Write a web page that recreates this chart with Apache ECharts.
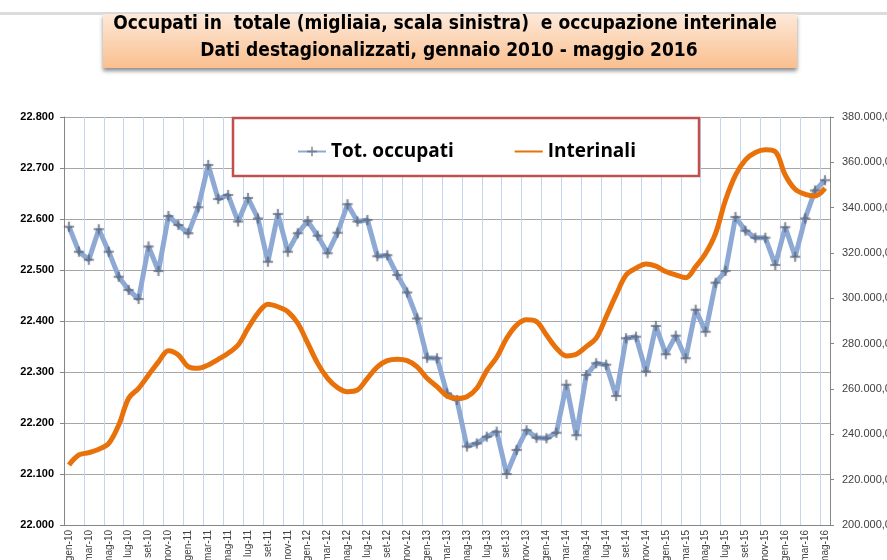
<!DOCTYPE html>
<html>
<head>
<meta charset="utf-8">
<script src="https://cdn.jsdelivr.net/npm/echarts@6/dist/echarts.min.js"></script>
<style>
  html, body { margin: 0; padding: 0; background: #fff; }
  #chart { width: 887px; height: 560px; }
</style>
</head>
<body>
<div id="chart"></div>
<script>
  var mesi = ['gen', 'feb', 'mar', 'apr', 'mag', 'giu', 'lug', 'ago', 'set', 'ott', 'nov', 'dic']
  var anni = ['10', '11', '12', '13', '14', '15', '16']

  // occupati totali, migliaia (scala sinistra)
  var totOccupati = [
    22585, 22536, 22520, 22580, 22536, 22487, 22461, 22443, 22546, 22498,
    22606, 22588, 22572, 22623, 22706, 22639, 22647, 22595, 22641, 22601,
    22516, 22610, 22536, 22572, 22596, 22567, 22533, 22573, 22629, 22595,
    22598, 22527, 22529, 22490, 22456, 22405, 22328, 22327, 22258, 22245,
    22154, 22160, 22173, 22183, 22100, 22147, 22186, 22171, 22170, 22181,
    22275, 22176, 22294, 22317, 22314, 22253, 22366, 22369, 22301, 22390,
    22335, 22371, 22327, 22422, 22379, 22475, 22498, 22604, 22577, 22563,
    22563, 22510, 22584, 22526, 22601, 22656, 22676
  ]

  // occupazione interinale (scala destra)
  var interinali = [
    226500, 230900, 231900, 233400, 236000, 244100, 255900, 260300, 266200, 272000,
    276900, 275000, 269800, 269100, 270600, 273100, 275800, 279400, 286800, 293500,
    297400, 296300, 294100, 289000, 280200, 271300, 264700, 260600, 258800, 259600,
    264700, 269800, 272500, 273100, 272500, 269800, 264700, 261000, 256900, 255900,
    256600, 260300, 268100, 274000, 282400, 288200, 290500, 289700, 283800, 278000,
    274600, 275300, 278700, 282400, 291900, 301500, 310300, 313300, 315200, 314200,
    311800, 310300, 309100, 314000, 319900, 328700, 343400, 354400, 361100, 364300,
    365500, 364700, 354400, 348100, 345900, 345200, 348600
  ]

  var categorie = []
  anni.forEach(function (a) {
    mesi.forEach(function (m) {
      if (categorie.length < totOccupati.length) {
        categorie.push(m + '-' + a)
      }
    })
  })

  var migliaia = function (n) {
    return String(n).replace(/\B(?=(\d{3})+(?!\d))/g, '.')
  }

  var chart = echarts.init(document.getElementById('chart'))

  var plusSymbol = 'path://M4,0H6V4H10V6H6V10H4V6H0V4H4Z'
  var titleFont = 'Liberation Sans Narrow, DejaVu Sans Condensed, sans-serif'

  var option = {
    animation: false,
    backgroundColor: '#fff',
    grid: {
      left: 64,
      right: 57,
      top: 117,
      bottom: 35,
      containLabel: false,
      outerBoundsMode: 'none'
    },
    legend: {
      left: 292,
      top: 137,
      z: 20,
      itemGap: 60,
      itemWidth: 28,
      itemHeight: 12,
      textStyle: {
        fontFamily: 'Open Sans',
        fontWeight: 'bold',
        fontSize: 19,
        color: '#000'
      },
      data: [
        { name: 'Tot. occupati' },
        { name: 'Interinali', itemStyle: { opacity: 0 } }
      ]
    },
    graphic: [
      {
        type: 'rect',
        shape: { x: 0, y: 12, width: 887, height: 3 },
        style: { fill: '#dcdcdc' },
        z: 1
      },
      {
        type: 'rect',
        shape: { x: 103, y: 14, width: 694, height: 54 },
        style: {
          fill: new echarts.graphic.LinearGradient(0, 0, 0, 1, [
            { offset: 0, color: '#fde9d9' },
            { offset: 1, color: '#fabf8f' }
          ]),
          shadowColor: 'rgba(0,0,0,0.45)',
          shadowBlur: 4,
          shadowOffsetY: 3
        },
        z: 5
      },
      {
        type: 'text',
        x: 445,
        y: 24,
        z: 6,
        style: {
          text: 'Occupati in  totale (migliaia, scala sinistra)  e occupazione interinale',
          fontFamily: titleFont,
          fontWeight: 'bold',
          fontSize: 19,
          fill: '#000',
          align: 'center',
          verticalAlign: 'middle'
        }
      },
      {
        type: 'text',
        x: 449,
        y: 51,
        z: 6,
        style: {
          text: 'Dati destagionalizzati, gennaio 2010 - maggio 2016',
          fontFamily: titleFont,
          fontWeight: 'bold',
          fontSize: 19,
          fill: '#000',
          align: 'center',
          verticalAlign: 'middle'
        }
      },
      {
        // riquadro legenda
        type: 'rect',
        shape: { x: 233, y: 118, width: 466, height: 58 },
        style: { fill: '#fff', stroke: '#c0504d', lineWidth: 2.5 },
        z: 10
      }
    ],
    xAxis: {
      type: 'category',
      data: categorie,
      boundaryGap: true,
      axisLine: { lineStyle: { color: '#868686' } },
      axisTick: { interval: 1, length: 4, lineStyle: { color: '#868686' } },
      splitLine: { show: true, interval: 1, lineStyle: { color: '#c6d5ef', width: 1 } },
      axisLabel: {
        interval: 1,
        rotate: 90,
        margin: 5,
        fontSize: 10,
        fontFamily: 'Liberation Sans',
        color: '#404040'
      }
    },
    yAxis: [
      {
        type: 'value',
        min: 22000,
        max: 22800,
        interval: 100,
        axisLine: { show: true, lineStyle: { color: '#868686' } },
        axisTick: { show: true, length: 4, lineStyle: { color: '#868686' } },
        splitLine: { lineStyle: { color: '#a6a6a6', width: 1 } },
        axisLabel: {
          margin: 10,
          fontSize: 11,
          fontWeight: 'bold',
          fontFamily: 'Liberation Sans',
          color: '#000',
          formatter: function (v) { return migliaia(v) }
        }
      },
      {
        type: 'value',
        min: 200000,
        max: 380000,
        interval: 20000,
        position: 'right',
        axisLine: { show: true, lineStyle: { color: '#868686' } },
        axisTick: { show: true, length: 4, lineStyle: { color: '#868686' } },
        splitLine: { show: false },
        axisLabel: {
          margin: 12,
          fontSize: 11,
          fontFamily: 'Liberation Sans',
          color: '#404040',
          formatter: function (v) { return migliaia(v) + ',0' }
        }
      }
    ],
    series: [
      {
        name: 'Tot. occupati',
        type: 'line',
        yAxisIndex: 0,
        data: totOccupati,
        symbol: plusSymbol,
        symbolSize: 10,
        showAllSymbol: true,
        z: 3,
        lineStyle: { color: '#8eaad4', width: 5 },
        itemStyle: {
          color: 'rgba(90,100,120,0.6)',
          shadowColor: 'rgba(0,0,0,0.35)',
          shadowBlur: 2
        }
      },
      {
        name: 'Interinali',
        type: 'line',
        yAxisIndex: 1,
        data: interinali,
        smooth: 0.35,
        showSymbol: false,
        z: 4,
        lineStyle: { color: '#e8710a', width: 5 },
        itemStyle: { color: '#e8710a' }
      }
    ]
  }

  chart.setOption(option)
</script>
</body>
</html>
